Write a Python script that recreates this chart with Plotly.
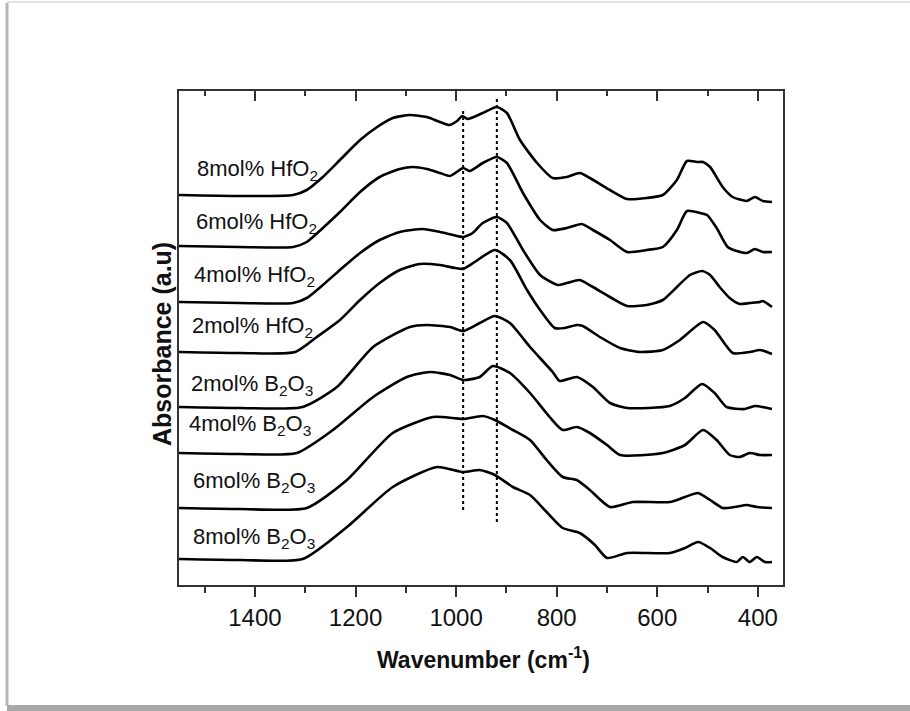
import plotly.graph_objects as go

# ---------------- data (wavenumber cm^-1, absorbance a.u., stacked) ----------------
wn_hf8 = [1551, 1430, 1324, 1297, 1265, 1231, 1191, 1157, 1126, 1092, 1058, 1032, 1014, 998, 988, 977, 947, 919, 899, 873, 839, 808, 780, 754, 734, 694, 660, 621, 589, 561, 541, 521, 509, 495, 470, 450, 422, 406, 390, 372]
ab_hf8 = [390, 389, 390, 395, 408, 425, 445, 458, 467, 470, 468, 463, 460, 464, 469, 466, 472, 478, 472, 445, 422, 407, 408, 412, 407, 395, 386, 387, 390, 405, 424, 423, 423, 418, 398, 388, 384, 388, 384, 383]

wn_hf6 = [1551, 1430, 1324, 1297, 1265, 1231, 1191, 1152, 1112, 1086, 1058, 1032, 1012, 996, 986, 973, 947, 919, 899, 867, 833, 808, 780, 750, 728, 694, 660, 621, 589, 561, 541, 515, 501, 482, 460, 442, 422, 406, 390, 372]
ab_hf6 = [339, 338, 338, 343, 357, 373, 393, 408, 416, 418, 416, 412, 409, 414, 417, 414, 422, 428, 422, 392, 365, 355, 357, 361, 355, 345, 333, 335, 338, 355, 374, 372, 370, 357, 338, 334, 332, 336, 333, 333]

wn_hf4 = [1551, 1430, 1324, 1297, 1265, 1231, 1191, 1152, 1112, 1066, 1032, 1006, 986, 967, 947, 919, 899, 867, 833, 798, 780, 754, 728, 694, 660, 621, 589, 561, 535, 511, 495, 476, 456, 436, 416, 396, 390, 372]
ab_hf4 = [283, 282, 282, 287, 300, 315, 332, 345, 353, 356, 353, 350, 348, 352, 362, 368, 362, 335, 310, 300, 302, 305, 298, 288, 279, 280, 285, 298, 310, 314, 310, 298, 287, 281, 282, 283, 284, 278]

wn_hf2 = [1551, 1430, 1320, 1277, 1231, 1191, 1152, 1112, 1072, 1032, 1002, 986, 963, 923, 893, 859, 833, 804, 784, 760, 748, 714, 674, 635, 589, 555, 509, 486, 450, 416, 396, 372]
ab_hf2 = [233, 232, 233, 248, 265, 285, 302, 315, 321, 320, 317, 316, 323, 335, 325, 295, 275, 257, 257, 260, 259, 248, 237, 233, 235, 245, 263, 255, 232, 233, 235, 231]

wn_b2 = [1551, 1430, 1305, 1237, 1165, 1092, 1058, 1012, 986, 953, 923, 893, 853, 808, 794, 760, 728, 694, 660, 575, 545, 511, 486, 462, 426, 406, 372]
ab_b2 = [178, 177, 178, 198, 238, 258, 260, 258, 254, 262, 269, 262, 238, 213, 204, 208, 198, 182, 177, 179, 187, 201, 192, 178, 176, 179, 176]

wn_b4 = [1551, 1430, 1317, 1245, 1165, 1098, 1052, 1012, 986, 953, 927, 893, 853, 814, 788, 760, 734, 700, 674, 589, 545, 509, 482, 456, 436, 416, 396, 372]
ab_b4 = [132, 131, 132, 155, 188, 208, 213, 210, 205, 208, 219, 212, 192, 168, 155, 158, 152, 140, 130, 132, 140, 155, 145, 130, 128, 132, 130, 130]

wn_b6 = [1551, 1430, 1297, 1217, 1126, 1046, 1006, 986, 947, 923, 887, 853, 820, 788, 760, 734, 694, 649, 575, 545, 519, 495, 470, 446, 422, 402, 372]
ab_b6 = [77, 76, 77, 105, 152, 168, 167, 166, 169, 165, 155, 145, 125, 108, 105, 95, 78, 83, 83, 88, 92, 85, 77, 78, 80, 78, 77]

wn_b8 = [1551, 1430, 1305, 1217, 1126, 1038, 986, 953, 923, 887, 853, 820, 788, 754, 724, 700, 660, 575, 545, 519, 495, 470, 442, 430, 416, 402, 386, 372]
ab_b8 = [26, 25, 26, 58, 98, 118, 113, 115, 110, 98, 90, 73, 57, 52, 40, 27, 32, 32, 37, 43, 37, 28, 23, 28, 23, 28, 23, 23]

series_names = ["8mol% HfO<sub>2</sub>", "6mol% HfO<sub>2</sub>", "4mol% HfO<sub>2</sub>", "2mol% HfO<sub>2</sub>",
                "2mol% B<sub>2</sub>O<sub>3</sub>", "4mol% B<sub>2</sub>O<sub>3</sub>",
                "6mol% B<sub>2</sub>O<sub>3</sub>", "8mol% B<sub>2</sub>O<sub>3</sub>"]
series_wn = [wn_hf8, wn_hf6, wn_hf4, wn_hf2, wn_b2, wn_b4, wn_b6, wn_b8]
series_ab = [ab_hf8, ab_hf6, ab_hf4, ab_hf2, ab_b2, ab_b4, ab_b6, ab_b8]

# label anchor (wavenumber, absorbance) for each curve name
label_wn = [1519, 1521, 1525, 1529, 1531, 1535, 1527, 1527]
label_ab = [415, 362, 309, 258, 200, 160, 103, 47]

# dotted reference lines: wavenumber, y-start, y-end
ref_wn = [986, 919]
ref_y0 = [75, 63]
ref_y1 = [475, 488]

x_range = [1551, 350]
y_range = [0, 494]
tick_vals = [1400, 1200, 1000, 800, 600, 400]
minor_vals = [1500, 1300, 1100, 900, 700, 500]

# ---------------- figure ----------------
W, H = 910, 711
L, R, T, B = 179, 783, 91, 585

fig = go.Figure()
for wn, ab in zip(series_wn, series_ab):
    fig.add_trace(go.Scatter(x=wn, y=ab, mode="lines",
                             line=dict(color="black", width=2.6, shape="spline", smoothing=0.6),
                             showlegend=False, hoverinfo="skip"))

# dummy trace for top axis
fig.add_trace(go.Scatter(x=[x_range[0]], y=[None], xaxis="x2", yaxis="y",
                         showlegend=False, hoverinfo="skip"))

for xw, ya, yb in zip(ref_wn, ref_y0, ref_y1):
    fig.add_shape(type="line", xref="x", yref="y", x0=xw, x1=xw, y0=ya, y1=yb,
                  line=dict(color="black", width=2, dash="dot"))

font_family = "Liberation Sans, Arial, sans-serif"

for name, lw, la in zip(series_names, label_wn, label_ab):
    fig.add_annotation(x=lw, y=la, xref="x", yref="y", text=name, showarrow=False,
                       xanchor="left", yanchor="middle",
                       font=dict(family=font_family, size=22, color="#111"))

def px_x(p):
    return (p - L) / (R - L)

def px_y(p):
    return (B - p) / (B - T)

# axis titles
fig.add_annotation(x=px_x(483), y=px_y(658), xref="paper", yref="paper",
                   text="<b>Wavenumber (cm<sup>-1</sup>)</b>", showarrow=False,
                   xanchor="center", yanchor="middle",
                   font=dict(family=font_family, size=23, color="#111"))
fig.add_annotation(x=px_x(162), y=px_y(344), xref="paper", yref="paper",
                   text="<b>Absorbance (a.u)</b>", showarrow=False, textangle=-90,
                   xanchor="center", yanchor="middle",
                   font=dict(family=font_family, size=25, color="#111"))

# page frame with shadow
fig.add_shape(type="line", xref="paper", yref="paper",
              x0=px_x(7), x1=px_x(7), y0=px_y(3), y1=px_y(706),
              line=dict(color="#b5b5b5", width=3))
fig.add_shape(type="line", xref="paper", yref="paper",
              x0=px_x(7), x1=px_x(910), y0=px_y(2), y1=px_y(2),
              line=dict(color="#e2e2e2", width=2))
fig.add_shape(type="rect", xref="paper", yref="paper",
              x0=px_x(7), x1=px_x(910), y0=px_y(705), y1=px_y(711),
              line=dict(width=0), fillcolor="#a8a8a8")

axis_common = dict(range=x_range, showgrid=False, zeroline=False,
                   showline=True, linecolor="#333", linewidth=1.5,
                   tickvals=tick_vals, tickcolor="#333", tickwidth=1.5)

fig.update_layout(
    width=W, height=H,
    margin=dict(l=L, r=W - R, t=T, b=H - B, pad=0),
    paper_bgcolor="white", plot_bgcolor="white",
    xaxis=dict(**axis_common, ticks="outside", ticklen=10,
               ticktext=[str(v) for v in tick_vals], ticklabelstandoff=0,
               tickfont=dict(family=font_family, size=24, color="#111"),
               minor=dict(tickvals=minor_vals, ticks="outside",
                          ticklen=6, tickwidth=1.5, tickcolor="#333"),
               mirror=False),
    xaxis2=dict(**axis_common, overlaying="x", side="top", ticks="inside", ticklen=10,
                showticklabels=False, matches="x",
                minor=dict(tickvals=minor_vals, ticks="inside",
                           ticklen=5, tickwidth=1.5, tickcolor="#333")),
    yaxis=dict(range=y_range, showgrid=False, zeroline=False, showticklabels=False,
               ticks="", showline=True, linecolor="#333", linewidth=1.5, mirror=True),
)

fig.write_html("out.html", config={"displayModeBar": False},
               post_script="document.body.style.margin='0px';")
